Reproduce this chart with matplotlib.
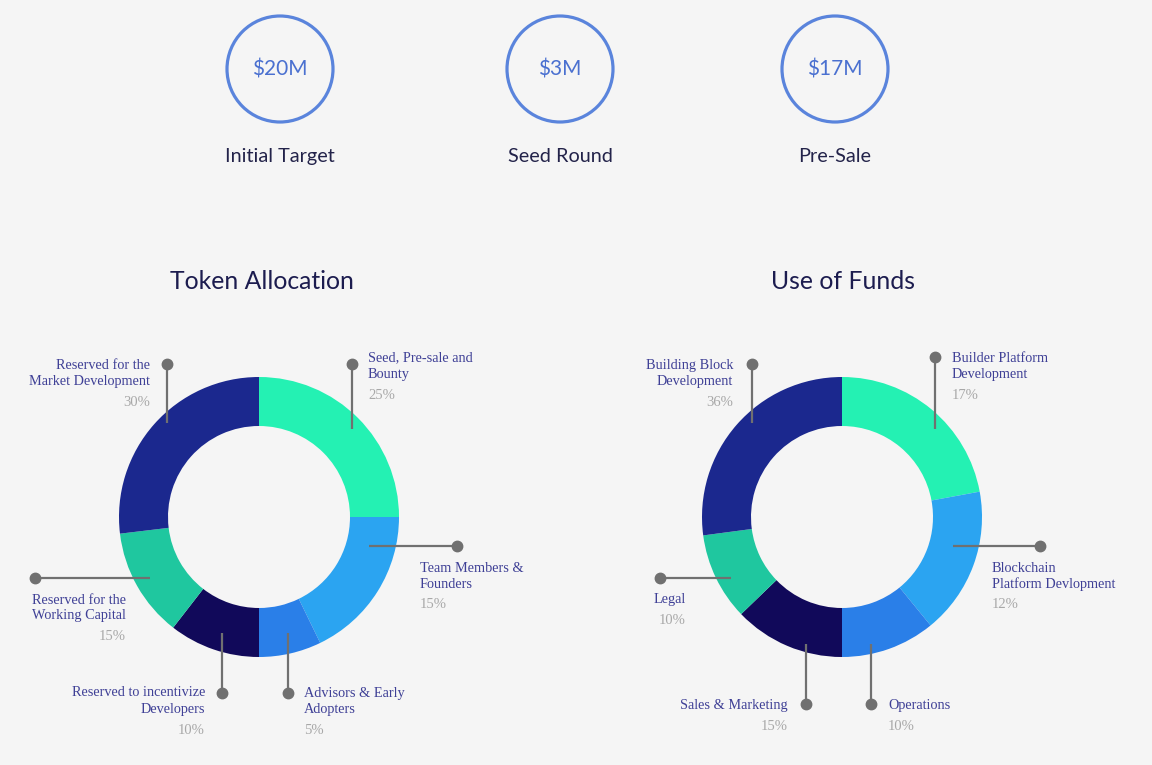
import matplotlib
matplotlib.use("Agg")
import matplotlib.pyplot as plt
from matplotlib.patches import Circle

# top figures
round_values = ["$20M", "$3M", "$17M"]
round_names = ["Initial Target", "Seed Round", "Pre-Sale"]

# token allocation
token_labels = ["Seed, Pre-sale and\nBounty", "Team Members &\nFounders", "Advisors & Early\nAdopters",
                "Reserved to incentivize\nDevelopers", "Reserved for the\nWorking Capital",
                "Reserved for the\nMarket Development"]
token_pct = [25, 15, 5, 10, 15, 30]
# wedge sizes as drawn in the picture (the drawing does not follow the printed %)
token_share = [25.0, 17.8, 7.2, 10.5, 12.6, 26.9]

# use of funds
funds_labels = ["Builder Platform\nDevelopment", "Blockchain\nPlatform Devlopment", "Operations",
                "Sales & Marketing", "Legal", "Building Block\nDevelopment"]
funds_pct = [17, 12, 10, 15, 10, 36]
funds_share = [22.1, 17.0, 10.9, 12.8, 10.1, 27.1]

colors = ["#24f1b3", "#2ba4f1", "#2a7fe8", "#11095a", "#1fc79f", "#1b288e"]

BG = "#f5f5f5"
LABEL = "#3f4096"
PCT = "#a8a8a8"
LINE = "#707070"

fig = plt.figure(figsize=(11.52, 7.65), dpi=100, facecolor=BG)
ax = fig.add_axes([0, 0, 1, 1])
ax.set_facecolor(BG)

# round circles
for x, val, name in zip([280, 560, 835], round_values, round_names):
    ax.add_patch(Circle((x, 69), 53, fill=False, ec="#5a84dc", lw=2.3))
    ax.text(x, 69, val, ha="center", va="center", fontsize=15, color="#4a70d0", family="Lato")
    ax.text(x, 156, name, ha="center", va="center", fontsize=14.3, color="#23234a", family="Lato")

ax.text(262, 281, "Token Allocation", ha="center", va="center", fontsize=17.8, color="#1c1c4f", family="Lato")
ax.text(843, 281, "Use of Funds", ha="center", va="center", fontsize=17.8, color="#1c1c4f", family="Lato")


def donut(cx, cy, shares):
    ax.pie(shares, colors=colors, center=(cx, cy), radius=140, startangle=-90, counterclock=True,
           wedgeprops=dict(width=49, linewidth=0))


donut(259, 517, token_share)
donut(842, 517, funds_share)

# callouts: (line start, dot, text x, text y, ha)
token_callouts = [
    ((352, 429), (352, 364), 368, 358, "left"),
    ((369, 546), (457, 546), 420, 568, "left"),
    ((288, 633), (288, 693), 304, 693, "left"),
    ((222, 633), (222, 693), 205, 693, "right"),
    ((150, 578), (35, 578), 126, 600, "right"),
    ((167, 423), (167, 364), 150, 365, "right"),
]
funds_callouts = [
    ((935, 429), (935, 357), 952, 358, "left"),
    ((953, 546), (1040, 546), 992, 568, "left"),
    ((871, 644), (871, 704), 888, 705, "left"),
    ((806, 644), (806, 704), 788, 705, "right"),
    ((731, 578), (660, 578), 686, 600, "right"),
    ((752, 423), (752, 364), 733, 365, "right"),
]


def callouts(specs, labels, pcts):
    for (p0, p1, tx, ty, ha), lab, pct in zip(specs, labels, pcts):
        ax.plot([p0[0], p1[0]], [p0[1], p1[1]], color=LINE, lw=1.6, zorder=5, solid_capstyle="butt")
        ax.plot(p1[0], p1[1], "o", ms=7.5, color=LINE, zorder=6)
        lines = lab.split("\n")
        for i, ln in enumerate(lines):
            ax.text(tx, ty + i * 16, ln, ha=ha, va="center", fontsize=10.3, color=LABEL,
                    family="Liberation Serif")
        ax.text(tx, ty + (len(lines) - 1) * 16 + 21, f"{pct}%", ha=ha, va="center", fontsize=10.5,
                color=PCT, family="Liberation Serif")


callouts(token_callouts, token_labels, token_pct)
callouts(funds_callouts, funds_labels, funds_pct)

ax.set_xlim(0, 1152)
ax.set_ylim(765, 0)
ax.set_aspect("equal")
ax.axis("off")

fig.savefig("out.png", dpi=100, facecolor=BG)
